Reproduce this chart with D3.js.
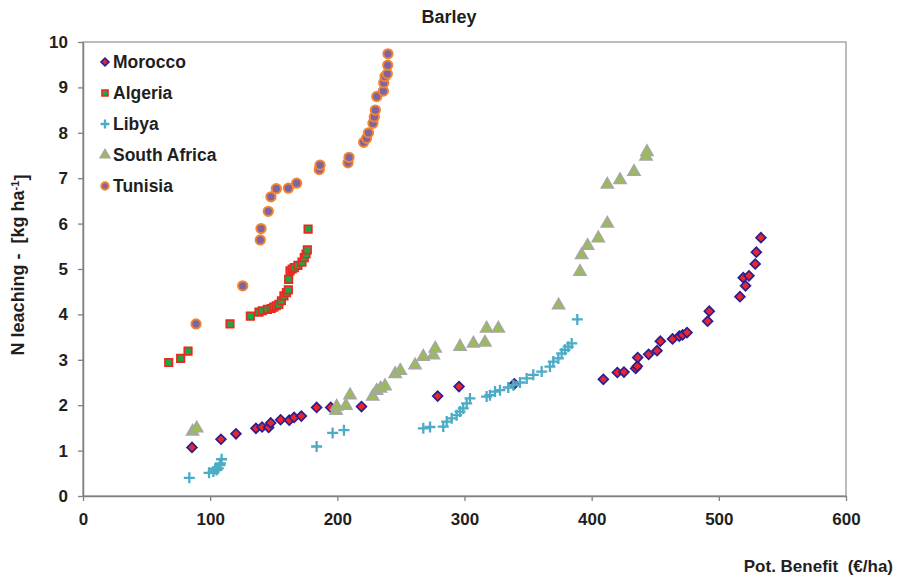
<!DOCTYPE html>
<html>
<head>
<meta charset="utf-8">
<script src="https://cdn.jsdelivr.net/npm/d3@7"></script>
<style>
  body { margin: 0; background: #fff; }
  svg text { font-family: "Liberation Sans", Arial, sans-serif; font-weight: bold; fill: #1f1f1f; }
</style>
</head>
<body>
<svg id="chart" width="899" height="582"></svg>
<script>
// Barley: potential benefit (€/ha) vs N leaching (kg/ha) per country
const morocco = [
  [85.7,1.07],[108.5,1.25],[120.3,1.37],[136,1.49],[140.8,1.52],[146,1.51],[147.6,1.61],
  [155.4,1.68],[162.2,1.67],[166,1.73],[171.7,1.76],[183.7,1.95],[194.8,1.95],[219,1.97],
  [278.9,2.2],[295.7,2.41],[339.2,2.47],[409.2,2.57],[420.2,2.72],[425.4,2.73],[434.6,2.81],
  [435.9,2.86],[436.2,3.05],[444.8,3.12],[451.4,3.2],[454,3.41],[463.6,3.46],[468.9,3.52],
  [471.5,3.55],[475,3.6],[491.2,3.85],[492.5,4.07],[516.6,4.39],[521,4.63],[519.2,4.81],
  [523.7,4.85],[528.6,5.11],[529.5,5.37],[533.1,5.69]
];
const algeria = [
  [67.4,2.94],[76.8,3.03],[82.6,3.19],[115.6,3.79],[131.6,3.96],[138.4,4.05],[141,4.08],
  [145,4.11],[148,4.13],[150,4.16],[152,4.19],[154,4.22],[156,4.3],[158,4.41],[160,4.48],
  [161.5,4.54],[161.7,4.77],[162.8,4.96],[164.5,5.0],[166.2,5.03],[169,5.08],[172.2,5.15],
  [174,5.25],[175.4,5.33],[176.4,5.42],[177,5.88]
];
const libya = [
  [83.6,0.40],[99.1,0.51],[102.5,0.54],[104,0.6],[105.1,0.57],[106.4,0.61],[107.7,0.68],
  [108,0.72],[109,0.81],[183.7,1.09],[196.3,1.39],[205.2,1.45],[267.6,1.49],[272.9,1.52],
  [283.3,1.53],[286,1.64],[289.9,1.71],[293.8,1.78],[296.5,1.86],[299,1.93],[301.7,2.04],
  [304.3,2.15],[317.4,2.19],[320,2.22],[324,2.3],[327.9,2.33],[334.4,2.39],[338.4,2.44],
  [343.6,2.5],[348.9,2.59],[354.1,2.67],[360.7,2.74],[367.2,2.85],[369.8,2.96],[373.8,3.03],
  [376.4,3.14],[379,3.22],[381.6,3.29],[384.3,3.36],[388.7,3.89]
];
const southAfrica = [
  [86.2,1.42],[89.4,1.49],[199,1.88],[199.5,1.97],[206.8,1.99],[210,2.22],[227.8,2.19],
  [230.9,2.32],[234,2.37],[237.5,2.42],[245.5,2.69],[249.5,2.76],[261.1,2.88],[267.6,3.07],
  [275.5,3.1],[277,3.25],[296.5,3.29],[307,3.36],[316.1,3.38],[317.4,3.69],[326.6,3.69],
  [374,4.2],[390.8,4.94],[392.1,5.31],[396.8,5.51],[405.2,5.68],[412.3,6.0],[412.3,6.86],
  [422.3,6.96],[433.3,7.14],[442.7,7.48],[443.5,7.58]
];
const tunisia = [
  [88.9,3.79],[125.6,4.63],[139.4,5.64],[140,5.89],[145.7,6.27],[147.8,6.59],[152,6.77],
  [161.5,6.78],[168,6.89],[185.8,7.19],[186.4,7.29],[208.4,7.34],[209.2,7.46],[220.7,7.79],
  [223,7.88],[224.5,8.0],[228,8.21],[229.1,8.35],[229.9,8.5],[231,8.8],[236.2,8.92],
  [236.5,9.1],[237.5,9.24],[239.3,9.3],[239.6,9.49],[239.8,9.74]
];
const seriesNames = ["Morocco", "Algeria", "Libya", "South Africa", "Tunisia"];
const xTicks = [0, 100, 200, 300, 400, 500, 600];
const yTicks = [0, 1, 2, 3, 4, 5, 6, 7, 8, 9, 10];

const svg = d3.select("#chart");
const plot = { left: 83, right: 846, top: 42, bottom: 496 };

const x = d3.scaleLinear().domain([0, 600]).range([plot.left, plot.right]);
const y = d3.scaleLinear().domain([0, 10]).range([plot.bottom, plot.top]);

// plot frame
svg.append("rect")
  .attr("x", plot.left).attr("y", plot.top)
  .attr("width", plot.right - plot.left).attr("height", plot.bottom - plot.top)
  .attr("fill", "none").attr("stroke", "#a6a6a6").attr("stroke-width", 1.5);

const xAxis = svg.append("g")
  .attr("transform", `translate(0,${plot.bottom})`)
  .call(d3.axisBottom(x).tickValues(xTicks).tickSize(5).tickSizeOuter(0).tickPadding(12));
const yAxis = svg.append("g")
  .attr("transform", `translate(${plot.left},0)`)
  .call(d3.axisLeft(y).tickValues(yTicks).tickSize(5).tickSizeOuter(0).tickPadding(10));

[xAxis, yAxis].forEach(g => {
  g.select(".domain").attr("stroke", "#808080").attr("stroke-width", 1.5);
  g.selectAll(".tick line").attr("stroke", "#808080").attr("stroke-width", 1.3);
  g.selectAll(".tick text").style("font-size", "17px").attr("fill", "#1f1f1f");
});

// marker styles per series
const styles = {
  "Morocco":      { type: "diamond",  fill: "#e8262b", stroke: "#2e1f91", sw: 1.7, size: 48 },
  "Algeria":      { type: "square",   fill: "#1fa648", stroke: "#e9291f", sw: 1.7, size: 56 },
  "Libya":        { type: "plus",     fill: "none",    stroke: "#4bacc6", sw: 2.3, size: 5.5 },
  "South Africa": { type: "triangle", fill: "#9bbb59", stroke: "#a6a6a6", sw: 1.5, size: 64 },
  "Tunisia":      { type: "circle",   fill: "#8064a2", stroke: "#f38530", sw: 2,   size: 68 }
};

function drawMarker(g, st, scale) {
  const k = scale || 1;
  if (st.type === "plus") {
    const a = st.size * k;
    g.append("path").attr("d", `M${-a},0H${a}M0,${-a}V${a}`)
      .attr("stroke", st.stroke).attr("stroke-width", st.sw * Math.min(1, k + 0.2)).attr("fill", "none");
    return;
  }
  const sym = { diamond: d3.symbolSquare, square: d3.symbolSquare, triangle: d3.symbolTriangle, circle: d3.symbolCircle }[st.type];
  const p = g.append("path")
    .attr("d", d3.symbol().type(sym).size(st.size * k * k)())
    .attr("fill", st.fill).attr("stroke", st.stroke).attr("stroke-width", st.sw * Math.min(1, k + 0.2));
  if (st.type === "diamond") p.attr("transform", "rotate(45)");
}

const data = [morocco, algeria, libya, southAfrica, tunisia];
data.forEach((pts, i) => {
  const st = styles[seriesNames[i]];
  const layer = svg.append("g");
  pts.forEach(d => {
    const g = layer.append("g").attr("transform", `translate(${x(d[0])},${y(d[1])})`);
    drawMarker(g, st, 1);
  });
});

// legend
const legendRows = [62, 93, 124, 155, 186];
seriesNames.forEach((name, i) => {
  const g = svg.append("g").attr("transform", `translate(105,${legendRows[i]})`);
  drawMarker(g, styles[name], 0.8);
  svg.append("text").attr("x", 113).attr("y", legendRows[i]).attr("dy", "0.36em")
    .style("font-size", "17.5px").text(name);
});

// titles
svg.append("text").attr("x", 449).attr("y", 22.5).attr("text-anchor", "middle")
  .style("font-size", "18px").text("Barley");

svg.append("text").attr("x", 893).attr("y", 572).attr("text-anchor", "end")
  .style("font-size", "17px").style("white-space", "pre").text("Pot. Benefit  (€/ha)");

const yl = svg.append("text")
  .attr("transform", "translate(24,265) rotate(-90)")
  .attr("text-anchor", "middle").style("font-size", "18px").style("white-space", "pre");
yl.append("tspan").text("N leaching -  [kg ha");
yl.append("tspan").attr("dy", "-0.45em").style("font-size", "11px").text("-1");
yl.append("tspan").attr("dy", "0.45em").text("]");
</script>
</body>
</html>
